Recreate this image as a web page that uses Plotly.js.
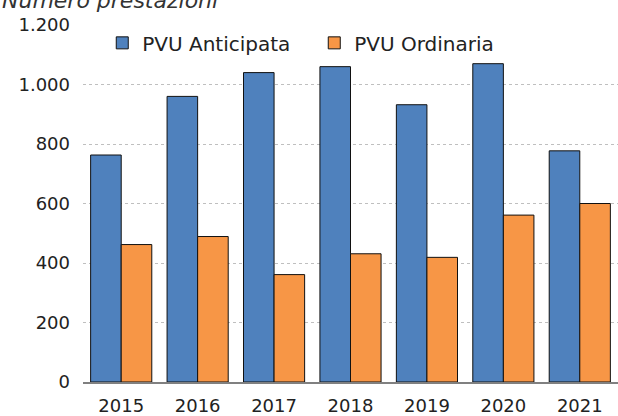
<!DOCTYPE html>
<html>
<head>
<meta charset="utf-8">
<script src="https://cdn.plot.ly/plotly-3.0.1.min.js"></script>
<style>html,body{margin:0;padding:0;background:#fff;}#chart{width:618px;height:416px;}</style>
</head>
<body>
<div id="chart"></div>
<script>
const years = ['2015','2016','2017','2018','2019','2020','2021'];
const anticipata = [763, 960, 1040, 1060, 932, 1070, 777];
const ordinaria = [462, 489, 361, 431, 419, 561, 600];
const seriesNames = ['PVU Anticipata', 'PVU Ordinaria'];
const yTicks = [0, 200, 400, 600, 800, 1000, 1200];
const chartTitle = 'Numero prestazioni';

const FONT = 'DejaVu Sans, sans-serif';
const traces = [
  {type:'bar', name: seriesNames[0], x: years, y: anticipata,
   marker:{color:'#4F81BD', line:{color:'#111', width:1}}},
  {type:'bar', name: seriesNames[1], x: years, y: ordinaria,
   marker:{color:'#F79646', line:{color:'#111', width:1}}}
];
const layout = {
  width: 618, height: 416,
  margin: {l: 83, r: 0, t: 25, b: 34, pad: 0},
  paper_bgcolor: '#fff', plot_bgcolor: '#fff',
  separators: ',.',
  font: {family: FONT, size: 18, color: '#222'},
  barmode: 'group', bargap: 0.2, bargroupgap: 0,
  showlegend: true,
  legend: {orientation: 'h', x: 0.036, xanchor: 'left', y: 0.95, yanchor: 'middle',
           font: {family: FONT, size: 20, color: '#222'}, bgcolor: 'rgba(0,0,0,0)',
           itemwidth: 30, entrywidth: 167, traceorder: 'normal'},
  annotations: [{text: chartTitle, xref: 'paper', yref: 'paper', x: -0.155, xanchor: 'left',
                 y: 1.07, yanchor: 'middle', showarrow: false,
                 font: {family: FONT, size: 22, color: '#333', style: 'italic'}}],
  xaxis: {showgrid: false, showline: true, linecolor: '#808080', linewidth: 2,
          ticks: '', tickfont: {family: FONT, size: 18, color: '#222'}, ticklabelstandoff: 6},
  yaxis: {range: [0, 1200], tickvals: yTicks, tickformat: ',d', separatethousands: true,
          showgrid: true, gridcolor: '#BFBFBF', griddash: 'dot', gridwidth: 1,
          zeroline: false, showline: false, ticks: '',
          tickfont: {family: FONT, size: 18, color: '#222'}, ticklabelstandoff: 12}
};
Plotly.newPlot('chart', traces, layout, {displayModeBar: false, staticPlot: true});
</script>
</body>
</html>
